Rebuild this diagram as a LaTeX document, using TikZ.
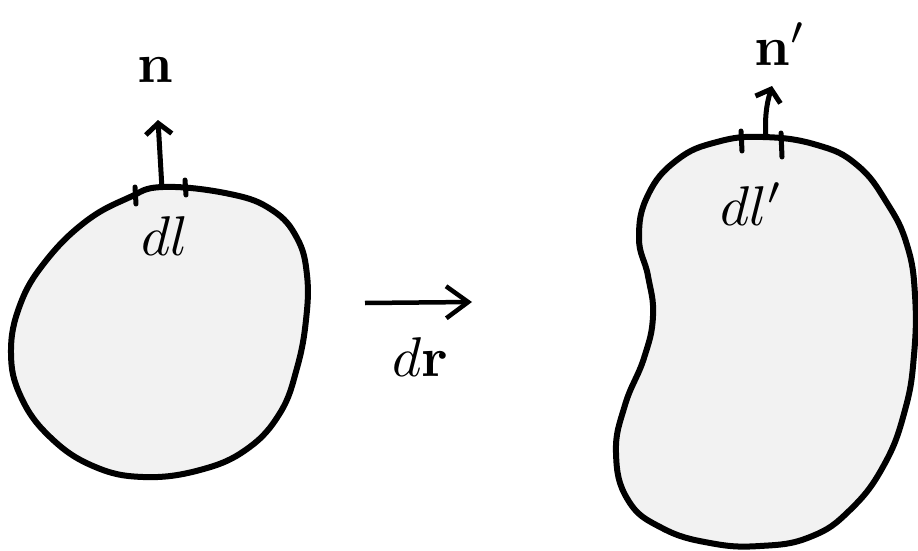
\documentclass[tikz,border=0pt]{standalone}
\usetikzlibrary{arrows.meta}
\begin{document}
\begin{tikzpicture}[x=1pt,y=-1pt,
  blob/.style={line width=6pt, fill=gray!10, line join=round},
  tick/.style={line width=5pt, line cap=round},
  normal/.style={line width=5pt, -{Straight Barb[length=11pt,width=26pt,line width=5pt]}},
  lbl/.style={inner sep=0pt}]
\useasboundingbox (0,0) rectangle (918,551);
% left blob
\draw[blob] plot[smooth cycle, tension=0.7] coordinates {
 (163,187) (230,194) (272,210) (297,238) (307,275) (306,320) (297,368)
 (280,413) (247,449) (200,470) (143,477) (93,466) (50,437) (21,397)
 (11,353) (20,305) (45,262) (85,222) (128,198)};
% right blob
\draw[blob] plot[smooth cycle, tension=0.75] coordinates {
 (763,137) (817,145) (857,165) (887,203) (907,245) (915,295) (914,355)
 (905,410) (884,465) (850,510) (810,537) (760,546) (710,543) (662,528)
 (628,500) (616,453) (625,405) (644,358) (653,316) (648,276) (639,238)
 (648,195) (677,160) (717,142)};
% ticks and normals
\coordinate (b1) at (162,189);
\coordinate (t1) at (158,120);
\coordinate (k1a) at (135,187); \coordinate (k1b) at (136,204);
\coordinate (k2a) at (185,180); \coordinate (k2b) at (186,195);
\draw[tick] (k1a) -- (k1b);
\draw[tick] (k2a) -- (k2b);
\draw[normal] (b1) -- (t1);
\coordinate (b2) at (766,139);
\coordinate (t2) at (772,86);
\coordinate (k3a) at (741,131); \coordinate (k3b) at (742,151);
\coordinate (k4a) at (781,133); \coordinate (k4b) at (782,157);
\draw[tick] (k3a) -- (k3b);
\draw[tick] (k4a) -- (k4b);
\draw[normal] (b2) to[bend left=10] (t2);
% labels
\node[lbl] (n1) at (155,70) {\scalebox{5.6}{$\mathbf{n}$}};
\node[lbl] (n2) at (780,44) {\scalebox{5.6}{$\mathbf{n}'$}};
\node[lbl] (dl1) at (165,236) {\scalebox{5.6}{$dl$}};
\node[lbl] (dl2) at (752,204) {\scalebox{5.6}{$dl'$}};
% displacement
\coordinate (d1) at (365,303);
\coordinate (d2) at (472,302);
\draw[line width=4.5pt, -{Straight Barb[length=22pt,width=32pt,line width=4.5pt]}] (d1) -- (d2);
\node[lbl] (dr) at (420,357) {\scalebox{5.6}{$d\mathbf{r}$}};
\end{tikzpicture}
\end{document}
